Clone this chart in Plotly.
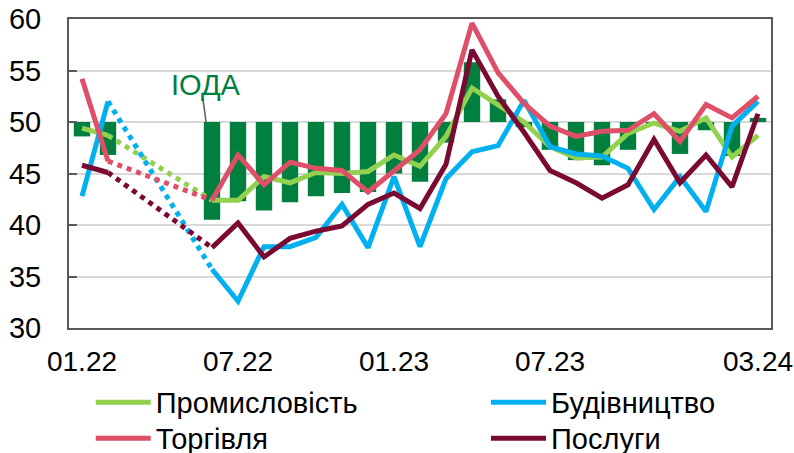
import plotly.graph_objects as go

months = ["01.22", "02.22", "03.22", "04.22", "05.22", "06.22", "07.22", "08.22", "09.22",
          "10.22", "11.22", "12.22", "01.23", "02.23", "03.23", "04.23", "05.23", "06.23",
          "07.23", "08.23", "09.23", "10.23", "11.23", "12.23", "01.24", "02.24", "03.24"]
tick_labels = ["01.22", "07.22", "01.23", "07.23", "03.24"]

ioda = [48.6, 46.8, None, None, None, 40.5, 42.3, 41.4, 42.2, 42.8, 43.1, 43.2, 45.0, 44.2,
        48.0, 55.8, 52.2, 49.5, 47.3, 46.3, 45.8, 47.3, 49.8, 46.9, 49.2, 46.7, 50.4]
industry = [49.4, 48.7, None, None, None, 42.4, 42.4, 44.7, 44.1, 45.1, 45.0, 45.2, 46.8, 45.7,
            48.6, 53.3, 51.6, 50.0, 47.6, 46.5, 46.6, 48.9, 49.9, 49.1, 50.4, 46.6, 48.7]
construction = [42.8, 52.0, None, None, None, 35.7, 32.6, 37.9, 37.9, 38.8, 42.0, 37.8, 44.7, 37.9,
                44.5, 47.1, 47.7, 52.1, 47.6, 46.9, 46.7, 45.5, 41.5, 44.7, 41.3, 49.6, 52.0]
trade = [54.2, 46.2, None, None, None, 42.4, 46.8, 43.9, 46.1, 45.5, 45.3, 43.2, 45.2, 47.3,
         50.8, 59.6, 54.8, 51.8, 49.6, 48.6, 49.1, 49.2, 50.8, 48.1, 51.7, 50.4, 52.5]
services = [45.8, 45.1, None, None, None, 37.8, 40.2, 36.9, 38.7, 39.4, 39.9, 42.0, 43.1, 41.6,
            45.9, 57.0, 52.5, 49.0, 45.3, 44.1, 42.6, 43.9, 48.3, 44.1, 46.8, 43.7, 50.8]

BASE = 50
FONT = "Arial, Liberation Sans, sans-serif"
FS = 29
GRID = "#D9D9D9"
AXIS = "#595959"
BAR = "#007F3F"

# name, values, colour, legend id
series = [
    ("Промисловість", industry, "#92D050", "legend"),
    ("Будівництво", construction, "#00B0F0", "legend2"),
    ("Торгівля", trade, "#DF5068", "legend3"),
    ("Послуги", services, "#7A0A32", "legend4"),
]

fig = go.Figure()
fig.add_trace(go.Bar(
    x=months, y=[None if v is None else v - BASE for v in ioda], base=BASE,
    marker=dict(color=BAR, line=dict(width=0)), width=0.63, showlegend=False, name="ІОДА",
))

# dotted bridges over the gap (02.22 -> 06.22)
gap_idx = (1, 5)
for name, vals, color, lg in series:
    bridge = [v if i in gap_idx else None for i, v in enumerate(vals)]
    fig.add_trace(go.Scatter(
        x=months, y=bridge, mode="lines", connectgaps=True, showlegend=False,
        line=dict(color=color, width=5, dash="dot"), hoverinfo="skip",
    ))

for name, vals, color, lg in series:
    fig.add_trace(go.Scatter(
        x=months, y=vals, mode="lines", name=name, connectgaps=False,
        line=dict(color=color, width=5), legend=lg,
    ))

def leg(x, y):
    return dict(x=x, xanchor="left", y=y, yanchor="top", orientation="v",
                font=dict(size=FS), itemwidth=55, tracegroupgap=0, bgcolor="rgba(0,0,0,0)")

ROW1, ROW2 = -0.158, -0.2745
COL1, COL2 = 0.031, 0.594

fig.update_layout(
    width=794, height=453,
    margin=dict(l=69, r=23, t=19, b=125, autoexpand=False),
    paper_bgcolor="white", plot_bgcolor="white",
    font=dict(family=FONT, size=FS, color="black"),
    legend=leg(COL1, ROW1), legend2=leg(COL2, ROW1),
    legend3=leg(COL1, ROW2), legend4=leg(COL2, ROW2),
    xaxis=dict(type="category", range=[-0.5, 26.5], tickvals=tick_labels, ticktext=tick_labels,
               showline=True, linecolor=AXIS, linewidth=2, mirror=True, ticks="",
               showgrid=False, ticklabelstandoff=7, tickfont=dict(size=28)),
    xaxis2=dict(overlaying="x", anchor="free", position=(BASE - 30) / 30, range=[-0.5, 26.5],
                tickvals=[7.5, 15.5, 23.5], ticks="inside", ticklen=8, tickwidth=2,
                tickcolor=AXIS, showticklabels=False, showline=True, linecolor=AXIS,
                linewidth=2, showgrid=False, zeroline=False, layer="below traces"),
    yaxis=dict(range=[30, 60], dtick=5, showgrid=True, gridcolor=GRID, gridwidth=1.5,
               showline=True, linecolor=AXIS, linewidth=2, mirror=True, ticks="inside",
               ticklen=8, tickwidth=2, tickcolor=AXIS, zeroline=False, ticklabelstandoff=20),
)

fig.add_annotation(x=4.77, y=53.6, text="ІОДА", showarrow=False,
                   font=dict(size=FS, color=BAR, family=FONT))
fig.add_shape(type="line", x0=4.65, y0=52.3, x1=4.77, y1=BASE, xref="x", yref="y",
              line=dict(color=AXIS, width=1.5))

fig.write_html("out.html", config={"displayModeBar": False},
               post_script="document.body.style.margin='0';")
